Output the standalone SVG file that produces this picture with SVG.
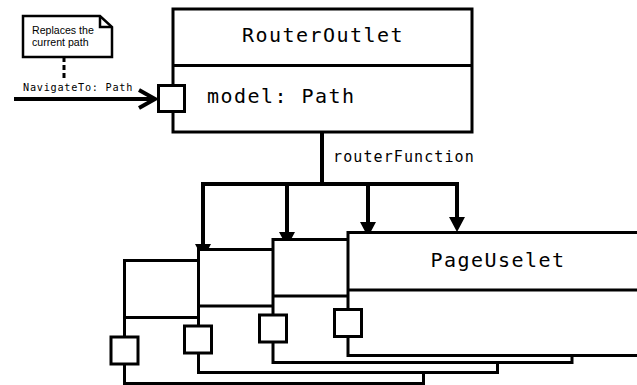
<svg xmlns="http://www.w3.org/2000/svg" width="637" height="385" viewBox="0 0 637 385">
<style>
.box{fill:#fff;stroke:#000;stroke-width:3}
.div{fill:none;stroke:#000;stroke-width:3}
.port{fill:#fff;stroke:#000;stroke-width:3}
.wire{fill:none;stroke:#000;stroke-width:4;stroke-linejoin:miter}
.mono{font-family:"DejaVu Sans Mono","Liberation Mono",monospace;fill:#000}
.title{font-size:20px;letter-spacing:1.45px}
.note{font-family:"Liberation Sans",Arial,sans-serif;font-size:10.6px;fill:#000}
</style>
<defs>
<marker id="tri" markerUnits="userSpaceOnUse" markerWidth="16" markerHeight="16" viewBox="0 0 15 16" refX="11" refY="8" orient="auto">
<path d="M0,0 L15,8 L0,16 Z" fill="#000"/>
</marker>
</defs>
<g id="connectors">
<path class="wire" d="M322,132 V184"/>
<path class="wire" d="M203,255 V184 H457 V228" marker-end="url(#tri)"/>
<path class="wire" d="M203,184 V255" marker-end="url(#tri)"/>
<path class="wire" d="M287,184 V243" marker-end="url(#tri)"/>
<path class="wire" d="M368,184 V233" marker-end="url(#tri)"/>
<path class="wire" d="M14,99 H153"/>
<polyline class="wire" points="139,90 155,99 139,108"/>
<path d="M64,57 V80" stroke="#000" stroke-width="3" stroke-dasharray="5 3" fill="none"/>
<text class="mono" x="23" y="91" font-size="10.2" letter-spacing="0.75">NavigateTo: Path</text>
<text class="mono" x="333" y="162" font-size="15" letter-spacing="1.1">routerFunction</text>
</g>
<g id="note">
<path d="M23,16 H100 L112,27 V57 H23 Z" fill="#fff" stroke="#000" stroke-width="2.5"/>
<path d="M100,16 V27 H112" fill="none" stroke="#000" stroke-width="2.5"/>
<text class="note" x="32" y="34">Replaces the</text>
<text class="note" x="32" y="46">current path</text>
</g>
<g id="routerOutlet">
<rect class="box" x="173" y="9" width="299" height="123"/>
<path class="div" d="M173,65.5 H472"/>
<text class="mono title" x="323" y="42" text-anchor="middle">RouterOutlet</text>
<text class="mono title" x="207" y="103">model: Path</text>
<rect class="port" x="158.5" y="85.5" width="26" height="26"/>
</g>
<g id="uselet1">
<rect class="box" x="124.5" y="260.5" width="299" height="123"/>
<path class="div" d="M124.5,317.5 H423.5"/>
<rect class="port" x="111" y="337" width="27" height="27"/>
</g>
<g id="uselet2">
<rect class="box" x="198.5" y="249.5" width="299" height="123"/>
<path class="div" d="M198.5,306 H497.5"/>
<rect class="port" x="184.5" y="326" width="27" height="27"/>
</g>
<g id="uselet3">
<rect class="box" x="273" y="239.5" width="299" height="123"/>
<path class="div" d="M273,296 H572"/>
<rect class="port" x="259.5" y="315" width="27" height="27"/>
</g>
<g id="pageUselet">
<rect class="box" x="348" y="232.5" width="299" height="123"/>
<path class="div" d="M348,290 H647"/>
<text class="mono title" x="498" y="267" text-anchor="middle">PageUselet</text>
<rect class="port" x="334.5" y="309.5" width="27" height="27"/>
</g>
</svg>
